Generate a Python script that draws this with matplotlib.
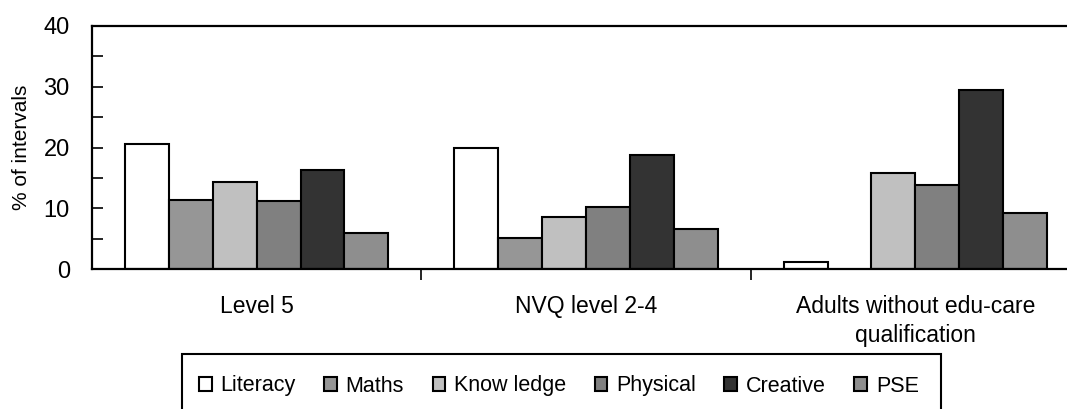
import numpy as np
import matplotlib
matplotlib.use("Agg")
import matplotlib.pyplot as plt
from matplotlib.patches import Rectangle
from matplotlib.ticker import MultipleLocator, FixedLocator

plt.rcParams['font.family'] = ['Liberation Sans', 'DejaVu Sans']

groups = ["Level 5", "NVQ level 2-4", "Adults without edu-care\nqualification"]
series = ["Literacy", "Maths", "Know ledge", "Physical", "Creative", "PSE"]
colors = ["#ffffff", "#969696", "#c0c0c0", "#808080", "#333333", "#8e8e8e"]

literacy = [20.6, 20.0, 1.2]
maths = [11.4, 5.1, 0.0]
knowledge = [14.4, 8.5, 15.8]
physical = [11.2, 10.2, 13.8]
creative = [16.3, 18.7, 29.5]
pse = [5.9, 6.6, 9.2]
values = [literacy, maths, knowledge, physical, creative, pse]

fig = plt.figure(figsize=(10.67, 4.09), dpi=100)
ax = fig.add_axes([92/1067, 1-269/409, (1080-92)/1067, (269-26)/409])

x = np.arange(len(groups))
w = 0.8 / len(series)
handles = []
for i, (vals, c) in enumerate(zip(values, colors)):
    vals = np.array(vals)
    # a zero bar is not drawn in the source
    b = ax.bar(x - 0.4 + w*(i+0.5), np.where(vals > 0, vals, np.nan), w,
               color=c, edgecolor="black", linewidth=1.5, label=series[i])
    handles.append(b)

ax.set_xlim(-0.5, 2.5)
ax.set_ylim(0, 40)
ax.yaxis.set_major_locator(MultipleLocator(10))
ax.yaxis.set_minor_locator(MultipleLocator(5))
ax.tick_params(axis="y", which="both", direction="in", length=8, width=1.2,
               labelsize=17, pad=16)
ax.set_xticks(x)
ax.set_xticklabels(groups, fontsize=16.5, linespacing=1.3)
ax.xaxis.set_minor_locator(FixedLocator([0.5, 1.5]))
ax.tick_params(axis="x", which="major", length=0, pad=19)
ax.tick_params(axis="x", which="minor", direction="out", length=8, width=1.2)
for s in ax.spines.values():
    s.set_linewidth(1.6)
ax.set_ylabel("% of intervals", fontsize=15)
ax.yaxis.set_label_coords(-61/988, 0.5)

# legend frame runs off the bottom edge like the source
fig.patches.append(Rectangle((182/1067, -0.05), (941-182)/1067, 0.05 + 1-354/409,
                             transform=fig.transFigure, fill=False,
                             edgecolor="black", linewidth=1.5))
fig.legend(handles=handles, loc="center left", bbox_to_anchor=(199/1067, 1-386/409),
           ncol=6, frameon=False, fontsize=15.5, handlelength=0.6, handleheight=0.6,
           handletextpad=0.4, columnspacing=1.32, borderpad=0, borderaxespad=0)

fig.savefig("out.png", dpi=100)
